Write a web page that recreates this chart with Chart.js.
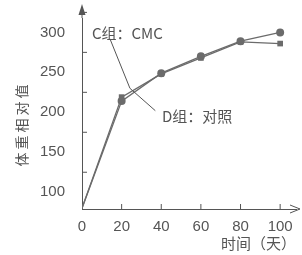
<!DOCTYPE html>
<html>
<head>
<meta charset="utf-8">
<script src="https://cdn.jsdelivr.net/npm/chart.js@4"></script>
<style>
  html, body { margin: 0; padding: 0; background: #fff; }
  #wrap { width: 302px; height: 255px; }
</style>
</head>
<body>
<div id="wrap"><canvas id="chart" width="302" height="255"></canvas></div>
<script>
const days = [0, 20, 40, 60, 80, 100];
const cmcGroup = [80, 214, 249, 270, 289, 300];
const controlGroup = [80, 219, 248, 268, 288, 286];
const xTicks = [0, 20, 40, 60, 80, 100];
const yTicks = [100, 150, 200, 250, 300];
const yMinorTicks = [125, 175, 225, 275, 325];

const ink = '#555';
const lineGrey = '#6b6b6b';
const cjk = '"Noto Sans CJK SC", sans-serif';
const latin = '"Liberation Sans", Arial, sans-serif';

// axis arrows, minor ticks, titles and the two group labels
const extras = {
  id: 'extras',
  afterDraw(chart) {
    const ctx = chart.ctx;
    const xs = chart.scales.x, ys = chart.scales.y;
    const area = chart.chartArea;
    const tipY = 4;
    ctx.save();
    ctx.strokeStyle = ink;
    ctx.fillStyle = ink;
    ctx.lineWidth = 1;

    // y axis carried up to its arrow
    ctx.beginPath();
    ctx.moveTo(area.left, area.top);
    ctx.lineTo(area.left, tipY + 4);
    ctx.stroke();
    ctx.beginPath();
    ctx.moveTo(area.left, tipY);
    ctx.lineTo(area.left - 3.5, tipY + 11);
    ctx.lineTo(area.left + 3.5, tipY + 11);
    ctx.closePath();
    ctx.fill();
    // x arrow
    ctx.beginPath();
    ctx.moveTo(area.right + 4, area.bottom);
    ctx.lineTo(area.right - 6, area.bottom - 4);
    ctx.moveTo(area.right + 4, area.bottom);
    ctx.lineTo(area.right - 6, area.bottom + 4);
    ctx.stroke();

    // tick marks
    ctx.beginPath();
    yMinorTicks.forEach(v => {
      const y = ys.getPixelForValue(v);
      ctx.moveTo(area.left, y);
      ctx.lineTo(area.left + 5, y);
    });
    xTicks.slice(1).forEach(v => {
      const x = xs.getPixelForValue(v);
      ctx.moveTo(x, area.bottom);
      ctx.lineTo(x, area.bottom - 5);
    });
    ctx.stroke();

    // axis titles
    ctx.textBaseline = 'middle';
    ctx.font = '14px ' + cjk;
    ctx.save();
    ctx.translate(22, 124);
    ctx.rotate(-Math.PI / 2);
    ctx.textAlign = 'center';
    ctx.letterSpacing = '3px';
    ctx.fillText('体重相对值', 0, 0);
    ctx.restore();
    ctx.textAlign = 'right';
    ctx.font = '15px ' + cjk;
    ctx.fillText('时间（天）', 296, 243);

    // group labels with leader lines
    ctx.textAlign = 'left';
    ctx.font = '15px ' + cjk;
    const cx = xs.getPixelForValue(5), cy = ys.getPixelForValue(299);
    ctx.fillText('C组：CMC', cx, cy);
    const dx = xs.getPixelForValue(40.4), dy = ys.getPixelForValue(195);
    ctx.fillText('D组：对照', dx, dy);

    ctx.beginPath();
    ctx.moveTo(xs.getPixelForValue(14.1), ys.getPixelForValue(292));
    ctx.lineTo(xs.getPixelForValue(24.2), ys.getPixelForValue(230));
    ctx.moveTo(xs.getPixelForValue(24.2), ys.getPixelForValue(230));
    ctx.lineTo(xs.getPixelForValue(37), ys.getPixelForValue(202));
    ctx.stroke();
    ctx.restore();
  }
};

new Chart(document.getElementById('chart'), {
  type: 'line',
  data: {
    labels: days,
    datasets: [
      {
        label: 'C组：CMC',
        data: days.map((d, i) => ({ x: d, y: cmcGroup[i] })),
        borderColor: lineGrey,
        borderWidth: 1.3,
        backgroundColor: lineGrey,
        pointStyle: 'circle',
        pointRadius: [0, 4, 4, 4, 4, 4],
        pointBorderWidth: 0,
        tension: 0
      },
      {
        label: 'D组：对照',
        data: days.map((d, i) => ({ x: d, y: controlGroup[i] })),
        borderColor: lineGrey,
        borderWidth: 1.3,
        backgroundColor: lineGrey,
        pointStyle: 'rect',
        pointRadius: [0, 4, 4, 4, 4, 4],
        pointBorderWidth: 0,
        tension: 0
      }
    ]
  },
  options: {
    responsive: false,
    animation: false,
    layout: { padding: { top: 5, right: 6, left: 0, bottom: 0 } },
    plugins: { legend: { display: false }, tooltip: { enabled: false } },
    scales: {
      x: {
        type: 'linear',
        min: 0,
        max: 108,
        grid: { display: false },
        border: { display: true, color: ink, width: 1 },
        afterBuildTicks: s => { s.ticks = xTicks.map(v => ({ value: v })); },
        afterFit: s => { s.height = 46; },
        ticks: { color: ink, padding: 1, font: { family: latin, size: 15 } }
      },
      y: {
        min: 79,
        max: 318,
        grid: { display: false },
        border: { display: true, color: ink, width: 1 },
        afterBuildTicks: s => { s.ticks = yTicks.map(v => ({ value: v })); },
        afterFit: s => { s.width = 82; },
        ticks: { color: ink, padding: 9, font: { family: latin, size: 15 } }
      }
    }
  },
  plugins: [extras]
});
</script>
</body>
</html>
